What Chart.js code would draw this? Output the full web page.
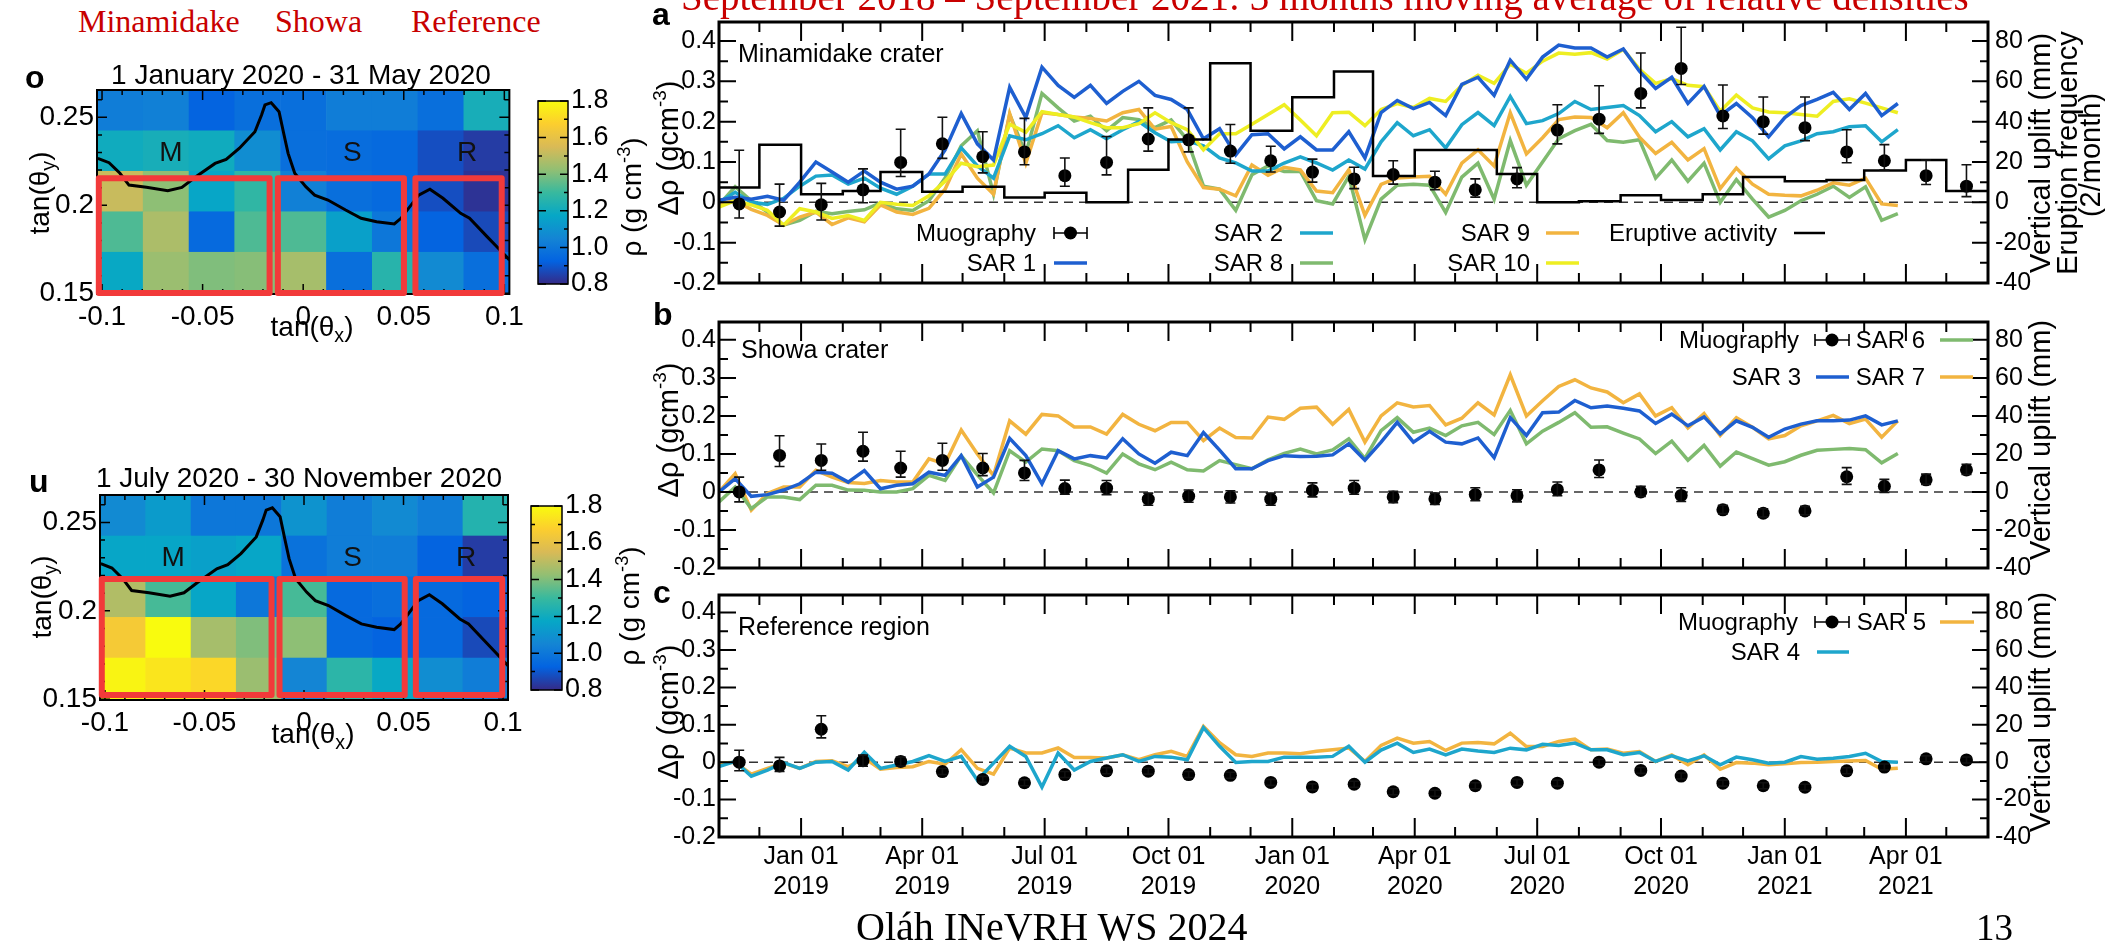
<!DOCTYPE html>
<html lang="en">
<head>
<meta charset="utf-8">
<title>Sakurajima muography – relative density time series</title>
<script src="https://cdn.jsdelivr.net/npm/chart.js@4.4.1/dist/chart.umd.min.js"></script>
<style>
  html, body { margin: 0; padding: 0; background: #fff; overflow: hidden; }
  #page { position: relative; width: 2105px; height: 944px; overflow: hidden; background: #fff;
          font-family: 'Liberation Sans', Arial, Helvetica, sans-serif; color: #000; }
  #page canvas { position: absolute; }
  .txt { position: absolute; white-space: nowrap; line-height: 1; }
  .serif { font-family: 'Liberation Serif', 'Times New Roman', serif; }
  .red { color: #c80000; }
  .rot { transform: translate(-50%, -50%) rotate(-90deg); }
  .mid { transform: translateX(-50%); }
  .letter { font-weight: bold; font-size: 32px; }
  sup { vertical-align: 0.6em; font-size: 65%; line-height: 0; }
  sub { vertical-align: -0.3em; font-size: 70%; line-height: 0; }
</style>
</head>
<body>
<div id="page">
  <canvas id="mapJanMay" width="530" height="300" style="left:0;top:60px"></canvas>
  <canvas id="barJanMay" width="90" height="230" style="left:530px;top:76px"></canvas>
  <canvas id="mapJulNov" width="530" height="300" style="left:0;top:465px"></canvas>
  <canvas id="barJulNov" width="90" height="230" style="left:523px;top:481px"></canvas>
  <canvas id="panelA" width="1485" height="305" style="left:620px;top:0"></canvas>
  <canvas id="panelB" width="1485" height="290" style="left:620px;top:300px"></canvas>
  <canvas id="panelC" width="1485" height="340" style="left:620px;top:570px"></canvas>

  <div class="txt serif red" style="left:681px;top:-22.7px;font-size:39px">September 2018 – September 2021: 3 months moving average of relative densities</div>
  <div class="txt serif red" style="left:78px;top:4.7px;font-size:32px">Minamidake</div>
  <div class="txt serif red" style="left:275px;top:4.7px;font-size:32px">Showa</div>
  <div class="txt serif red" style="left:411px;top:4.7px;font-size:32px">Reference</div>

  <div class="txt letter" style="left:25px;top:60.9px">o</div>
  <div class="txt letter" style="left:29px;top:464.9px">u</div>
  <div class="txt letter" style="left:652px;top:-2.1px">a</div>
  <div class="txt letter" style="left:653px;top:297.9px">b</div>
  <div class="txt letter" style="left:653px;top:575.9px">c</div>

  <div class="txt mid" style="left:301px;top:61.3px;font-size:28px">1 January 2020 - 31 May 2020</div>
  <div class="txt mid" style="left:299px;top:464.3px;font-size:28px">1 July 2020 - 30 November 2020</div>
  <div class="txt mid" style="left:312px;top:313.3px;font-size:28px">tan(θ<sub>x</sub>)</div>
  <div class="txt mid" style="left:313px;top:719.6px;font-size:28px">tan(θ<sub>x</sub>)</div>
  <div class="txt rot" style="left:40px;top:193px;font-size:28px">tan(θ<sub>y</sub>)</div>
  <div class="txt rot" style="left:42px;top:597px;font-size:28px">tan(θ<sub>y</sub>)</div>
  <div class="txt rot" style="left:632px;top:197px;font-size:28px">ρ (g cm<sup>-3</sup>)</div>
  <div class="txt rot" style="left:630px;top:606px;font-size:28px">ρ (g cm<sup>-3</sup>)</div>

  <div class="txt rot" style="left:668px;top:148px;font-size:29px">Δρ (gcm<sup>-3</sup>)</div>
  <div class="txt rot" style="left:668px;top:430px;font-size:29px">Δρ (gcm<sup>-3</sup>)</div>
  <div class="txt rot" style="left:668px;top:712px;font-size:29px">Δρ (gcm<sup>-3</sup>)</div>
  <div class="txt rot" style="left:2040px;top:153px;font-size:29px">Vertical uplift (mm)</div>
  <div class="txt rot" style="left:2067px;top:153px;font-size:29px">Eruption frequency</div>
  <div class="txt rot" style="left:2090px;top:155px;font-size:29px">(2/month)</div>
  <div class="txt rot" style="left:2040px;top:440px;font-size:29px">Vertical uplift (mm)</div>
  <div class="txt rot" style="left:2040px;top:712px;font-size:29px">Vertical uplift (mm)</div>

  <div class="txt" style="left:738px;top:40.8px;font-size:25px">Minamidake crater</div>
  <div class="txt" style="left:741px;top:336.8px;font-size:25px">Showa crater</div>
  <div class="txt" style="left:738px;top:613.8px;font-size:25px">Reference region</div>

  <div class="txt serif" style="left:856px;top:906.5px;font-size:40px">Oláh INeVRH WS 2024</div>
  <div class="txt serif" style="left:1976px;top:909px;font-size:37px">13</div>
</div>

<script>
// ---------- time axis ----------
const axisStart = '2018-11-01';
const axisEnd = '2021-06-01';
const quarterTicks = ['2019-01-01', '2019-04-01', '2019-07-01', '2019-10-01', '2020-01-01',
                      '2020-04-01', '2020-07-01', '2020-10-01', '2021-01-01', '2021-04-01'];
const quarterLabels = [['Jan 01', '2019'], ['Apr 01', '2019'], ['Jul 01', '2019'], ['Oct 01', '2019'], ['Jan 01', '2020'],
                       ['Apr 01', '2020'], ['Jul 01', '2020'], ['Oct 01', '2020'], ['Jan 01', '2021'], ['Apr 01', '2021']];

const rhoRange = [-0.2, 0.447];
const rhoTicks = [-0.2, -0.1, 0, 0.1, 0.2, 0.3, 0.4];
const rhoLabels = ['-0.2', '-0.1', '0', '0.1', '0.2', '0.3', '0.4'];
const rhoMinor = [-0.15, -0.05, 0.05, 0.15, 0.25, 0.35];
const upliftRange = [-40, 89.4];
const upliftTicks = [-40, -20, 0, 20, 40, 60, 80];
const upliftLabels = ['-40', '-20', '0', '20', '40', '60', '80'];
const upliftMinor = [-30, -10, 10, 30, 50, 70];

// ---------- muography (monthly, g/cm3) ----------
const muonDates = ['2018-11-16', '2018-12-16', '2019-01-16', '2019-02-16', '2019-03-16', '2019-04-16', '2019-05-16',
                   '2019-06-16', '2019-07-16', '2019-08-16', '2019-09-16', '2019-10-16', '2019-11-16', '2019-12-16',
                   '2020-01-16', '2020-02-16', '2020-03-16', '2020-04-16', '2020-05-16', '2020-06-16', '2020-07-16',
                   '2020-08-16', '2020-09-16', '2020-10-16', '2020-11-16', '2020-12-16', '2021-01-16', '2021-02-16',
                   '2021-03-16', '2021-04-16', '2021-05-16'];

const muonMinamidake = [-0.004, -0.024, -0.006, 0.031, 0.099, 0.145, 0.113, 0.125, 0.066, 0.099, 0.157, 0.155, 0.127, 0.103,
                        0.075, 0.058, 0.069, 0.050, 0.031, 0.058, 0.179, 0.206, 0.270, 0.332, 0.214, 0.200, 0.185, 0.125,
                        0.103, 0.066, 0.040];
const muonMinamidakeUp = [0.133, 0.069, 0.053, 0.052, 0.082, 0.066, 0.062, 0.083, 0.044, 0.064, 0.077, 0.079, 0.066, 0.036,
                          0.032, 0.029, 0.034, 0.027, 0.027, 0.028, 0.063, 0.083, 0.100, 0.102, 0.077, 0.061, 0.076, 0.055,
                          0.040, 0.039, 0.053];
const muonMinamidakeDown = [0.035, 0.035, 0.038, 0.032, 0.035, 0.036, 0.040, 0.032, 0.026, 0.031, 0.030, 0.030, 0.030, 0.028,
                            0.025, 0.024, 0.024, 0.019, 0.018, 0.022, 0.034, 0.035, 0.036, 0.040, 0.031, 0.031, 0.032, 0.027,
                            0.023, 0.022, 0.026];

const muonShowa = [0.000, 0.096, 0.083, 0.107, 0.063, 0.083, 0.063, 0.050, 0.009, 0.010, -0.019, -0.011, -0.013, -0.019,
                   0.004, 0.010, -0.013, -0.018, -0.007, -0.010, 0.006, 0.058, 0.000, -0.009, -0.047, -0.056, -0.050, 0.040,
                   0.015, 0.032, 0.058];
const muonShowaUp = [0.039, 0.052, 0.043, 0.050, 0.044, 0.045, 0.038, 0.033, 0.022, 0.020, 0.016, 0.016, 0.016, 0.016,
                     0.020, 0.020, 0.015, 0.015, 0.018, 0.016, 0.020, 0.026, 0.015, 0.020, 0.012, 0.012, 0.012, 0.024,
                     0.018, 0.015, 0.015];
const muonShowaDown = [0.026, 0.029, 0.026, 0.026, 0.024, 0.026, 0.020, 0.020, 0.015, 0.017, 0.016, 0.016, 0.016, 0.016,
                       0.017, 0.016, 0.015, 0.015, 0.016, 0.016, 0.016, 0.020, 0.012, 0.016, 0.010, 0.010, 0.010, 0.020,
                       0.016, 0.012, 0.012];

const muonReference = [0.000, -0.010, 0.088, 0.004, 0.002, -0.025, -0.046, -0.055, -0.033, -0.023, -0.024, -0.033, -0.035,
                       -0.054, -0.066, -0.059, -0.079, -0.083, -0.063, -0.054, -0.056, 0.000, -0.022, -0.037, -0.056,
                       -0.063, -0.067, -0.023, -0.013, 0.009, 0.006];
const muonReferenceUp = [0.032, 0.023, 0.036, 0.015, 0.012, 0.008, 0.008, 0.008, 0.008, 0.008, 0.008, 0.008, 0.008, 0.008,
                         0.008, 0.008, 0.008, 0.008, 0.008, 0.008, 0.008, 0.008, 0.008, 0.008, 0.008, 0.008, 0.008, 0.008,
                         0.008, 0.008, 0.008];
const muonReferenceDown = [0.023, 0.015, 0.023, 0.015, 0.012, 0.008, 0.008, 0.008, 0.008, 0.008, 0.008, 0.008, 0.008, 0.008,
                           0.008, 0.008, 0.008, 0.008, 0.008, 0.008, 0.008, 0.008, 0.008, 0.008, 0.008, 0.008, 0.008, 0.008,
                           0.008, 0.008, 0.008];

// ---------- eruptive activity (monthly bins, 2/month) ----------
const eruptionMonths = ['2018-11-01', '2018-12-01', '2019-01-01', '2019-02-01', '2019-03-01', '2019-04-01', '2019-05-01',
                        '2019-06-01', '2019-07-01', '2019-08-01', '2019-09-01', '2019-10-01', '2019-11-01', '2019-12-01',
                        '2020-01-01', '2020-02-01', '2020-03-01', '2020-04-01', '2020-05-01', '2020-06-01', '2020-07-01',
                        '2020-08-01', '2020-09-01', '2020-10-01', '2020-11-01', '2020-12-01', '2021-01-01', '2021-02-01',
                        '2021-03-01', '2021-04-01', '2021-05-01', '2021-06-01'];
const eruptionRate = [7.3, 28.5, 4, 5.6, 15, 5.2, 7.7, 2.4, 4.8, 0, 16.1, 31.1, 68.9, 35.5, 52.1, 64.8, 13, 26, 26, 14,
                      0, 0.5, 3.5, 1.1, 4, 12.6, 10.5, 11.1, 15.8, 21, 5.6];

// ---------- SAR vertical uplift (mm), one value per acquisition ----------
const sarDates = [
  '2018-11-01', '2018-11-13', '2018-11-25', '2018-12-07', '2018-12-19', '2018-12-31',
  '2019-01-12', '2019-01-24', '2019-02-05', '2019-02-17', '2019-03-01', '2019-03-13',
  '2019-03-25', '2019-04-06', '2019-04-18', '2019-04-30', '2019-05-12', '2019-05-24',
  '2019-06-05', '2019-06-17', '2019-06-29', '2019-07-11', '2019-07-23', '2019-08-04',
  '2019-08-16', '2019-08-28', '2019-09-09', '2019-09-21', '2019-10-03', '2019-10-15',
  '2019-10-27', '2019-11-08', '2019-11-20', '2019-12-02', '2019-12-14', '2019-12-26',
  '2020-01-07', '2020-01-19', '2020-01-31', '2020-02-12', '2020-02-24', '2020-03-07',
  '2020-03-19', '2020-03-31', '2020-04-12', '2020-04-24', '2020-05-06', '2020-05-18',
  '2020-05-30', '2020-06-11', '2020-06-23', '2020-07-05', '2020-07-17', '2020-07-29',
  '2020-08-10', '2020-08-22', '2020-09-03', '2020-09-15', '2020-09-27', '2020-10-09',
  '2020-10-21', '2020-11-02', '2020-11-14', '2020-11-26', '2020-12-08', '2020-12-20',
  '2021-01-01', '2021-01-13', '2021-01-25', '2021-02-06', '2021-02-18', '2021-03-02',
  '2021-03-14', '2021-03-26'];

const sar1 = [1, 2.5, 1.5, 3, 1, 10,  20, 15, 10, 15.5, 10, 6.5,  8, 14, 26, 44, 29, 21,  57, 42, 67, 58, 52, 58,
              49, 55, 60, 53, 51, 46,  31.5, 36.5, 23.5, 33.5, 34, 26.5,  32.5, 26, 26, 35, 22, 44.5,
              50.5, 46.5, 49.5, 43, 58.5, 62,  53, 70.5, 61, 72, 78, 76.5,  76.5, 72, 76, 65, 56.5, 62,
              49, 57.5, 43, 49, 42, 32.5,  42, 48, 51, 54.5, 46, 54,  43, 49];
const sar2 = [0, 5, 0, -1, 2, 8,  13, 13.5, 9, 12, 7, 4,  8, 14, 14, 27, 18, 12,  33, 31, 34, 38, 32, 36,
              31.5, 36, 40, 34.5, 30, 30.5,  28, 22, 19.5, 15.5, 15.5, 19.5,  22.5, 19.5, 16, 21, 16.5, 30,
              39.5, 33, 36, 27, 38.5, 44.5,  38, 52.5, 39, 40.5, 44, 50,  46, 47, 48, 43, 35, 40,
              32.5, 36.5, 26, 35, 30.5, 21.5,  28, 30.5, 34, 35, 37.5, 38,  30, 36];
const sar8 = [-1.3, 7.7, 0.8, -4.8, -11.3, -8.9,  -4.5, -5.6, -4.5, -3.7, -0.3, -3.2,  -4, 0.8, 12, 28, 35.5, 4,
              43.5, 24, 54, 46.8, 40.3, 42.7,  35.5, 42, 41, 37, 40.8, 31,  8, 6.5, -4, 13.7, 18, 15.3,
              15.3, 0.8, -0.8, 12.9, -18.5, 1.6,  8.5, 8.9, 8.5, -5, 12.5, 19.4,  1.5, 30.6, 8.5, 20, 31.5, 35.5,
              38.7, 30.6, 29.8, 31, 12, 21,  10.5, 19.4, 0, 11.3, 1.6, -7.3,  -4, 0.8, 4, 8, 2.4, 7.7,  -8.9, -5.6];
const sar9 = [-0.8, 0.8, -3.5, -6.5, -11.3, -7.3,  -4.8, -11, -7.7, -9.7, -1.3, -4.8,  -6, -3, 6.5, 24, 12, 4,
              44, 19.4, 44.4, 43.5, 42.3, 41.6,  40.3, 44.4, 46, 36.3, 37.6, 20,  7.3, 6.5, 3.2, 18.5, 13.4, 17.3,
              16.1, 5.6, 4.8, 16.1, -6.5, 8.9,  12.1, 12.5, 12.9, 4, 19.4, 26,  18, 44.4, 24, 32, 41, 42.3,
              42, 37, 44.4, 32.3, 24.2, 29.8,  21, 26.6, 6.8, 17, 9, 4,  3.5, 3.2, 6, 9.7, 8.5, 12,  -0.8, -1.6];
const sar10 = [-2.4, 0.8, -1.3, -4, -11.3, -3.2,  -4.8, -8, -6.5, -9, 0, -1,  -1.6, 3.2, 10.5, 19.4, 17.7, 18.5,
               38.7, 34.7, 45, 43.5, 42.3, 39.5,  37, 37, 39, 44.4, 39.5, 36,  26, 34, 34, 38.7, 43.5, 48.4,
               40.8, 33, 44.4, 44.7, 38, 46,  49, 47, 51.5, 50, 58, 63,  59, 68.5, 64, 70, 74, 73.4,
               74.2, 71, 75.8, 66, 59, 61.3,  58, 57.3, 45.2, 53.2, 46.8, 44.8,  44.4, 43.5, 42.7, 50, 51.3, 49.2,
               46.8, 44.4];
const sar3 = [0, 7, -2.3, -1.4, 1, 4.3,  10.4, 9.9, 5.2, 11.3, 1.7, 3.5,  4.3, 10.4, 8.7, 19.1, 2.6, 7.8,
              28.2, 19.1, 4.3, 21.7, 17.4, 19.1,  17.9, 28, 20, 15.1, 20.9, 19.1,  31.3, 22, 12.2, 12.2, 16.5, 19.1,
              18.6, 18.8, 19.5, 25.3, 16.7, 26.2,  36.6, 26.2, 31.9, 26.2, 25.3, 28.4,  18.1, 39.1, 29.7, 41.7, 42, 48.1,
              44.3, 45.2, 44, 42.6, 36, 40.9,  34.8, 39.5, 30.5, 37.4, 34, 28.8,  33.1, 35.7, 37.4, 37.4, 37.8, 40,
              35.3, 37.4];
const sar6 = [-5.2, 2.6, -8.7, -2.6, -2.6, -4,  3.5, 3.5, 1, 0.9, 0, 0,  1.7, 8.7, 6.1, 19.1, 9, -0.5,
              21.7, 15.7, 22.6, 21.7, 16.5, 13.9,  9.9, 20, 14.8, 11.7, 15.7, 11.7,  11, 16.5, 14.4, 12.2, 16.9, 20.3,
              22.6, 20, 22.1, 27.9, 17.6, 32.2,  39.1, 31.4, 33.6, 29.7, 34.8, 36.6,  30.2, 42.9, 25.3, 32, 36.6, 41.7,
              34, 34.3, 31, 27.9, 20.2, 26.7,  16.7, 24.5, 13.6, 21, 17.5, 14.1,  15.9, 19.3, 21.9, 22.4, 22.8, 22.2,
              15.3, 20.2];
const sar7 = [0, 9.6, -9.6, -0.8, 2.6, 2.6,  11.4, 7.8, 5, 4.4, 6, 5.2,  5.2, 17.4, 14.8, 32.6, 20, 8.6,
              37.4, 30.4, 40.8, 40, 34.2, 34.2,  30.4, 40.8, 35.6, 32.2, 36.6, 36.6,  27, 33.6, 28.6, 28.4, 39.4, 38.2,
              44, 44.6, 35.6, 43.4, 26.2, 40,  46.9, 44.7, 45.5, 35.3, 38.8, 46.9,  40.5, 61.6, 40, 48, 55.5, 59,
              54.7, 52.6, 46.9, 51.6, 40, 44.3,  33.6, 41.2, 29.7, 39.1, 34, 27.9,  29.7, 34.8, 37.4, 40.3, 36, 38.3,
              28.8, 37.4];
const sar4 = [-2.4, 0.4, -7.5, -4.2, -0.2, -3.3,  0, 0.4, -4.2, 5.3, -3.3, -1.5,  0.4, 3.5, 0.4, 3.1, -9.6, -0.5,
              8.5, 3.1, -13.3, 4.9, -4.2, 0.4,  2.2, 4, 0.4, 3.1, 2.7, 1.3,  18.5, 8.5, -0.2, 0.4, 0.4, 2.7,
              2.7, 2.7, 3.1, 8.5, 0, 6.5,  10.2, 5.2, 7, 3.9, 7, 6,  5.2, 7.5, 6.6, 9.6, 8.9, 10.2,
              6.6, 6.6, 4, 5.2, 0.4, 3.4,  0.7, 3.4, -1.4, 2.7, 1.3, -0.5,  0, 3, 1.6, 2.1, 3, 4.8,  0.4, 0];
const sar5 = [-0.5, 0, -6.4, -3.3, -0.5, -3.3,  0.4, 0.7, -2.4, 2.2, -3.8, -2.9,  -2.4, 0.4, -1.1, 6.7, -3.3, -6.4,
              7.6, 4.9, 4.9, 7.6, 2.5, 2.5,  2.2, 4, 1.3, 4, 5.8, 3.1,  19.1, 10.4, 4, 3.1, 4.9, 4.9,
              4.5, 5.8, 6.7, 7.6, 0.4, 9,  12.9, 10.2, 11.1, 6.3, 10.2, 10.5,  9.8, 15.5, 8.4, 8.4, 11.1, 12.3,
              6.6, 7, 4.8, 5.7, 0.4, 3.9,  -1.4, 3.9, -3.8, -0.2, -0.5, -1.4,  -0.9, -0.2, 0, 0.4, 0.7, 0.9,
              -3.8, -3.2];

// ---------- density maps (rows top to bottom, columns left to right, g/cm3) ----------
const tanXRange = [-0.1025, 0.1025];
const tanYRange = [0.1496, 0.2655];
const tanXEdges = [-0.1025, -0.0797, -0.0569, -0.0342, -0.0114, 0.0114, 0.0342, 0.0569, 0.0797, 0.1025];
const tanYEdges = [0.2655, 0.2425, 0.2195, 0.1965, 0.1735, 0.1496];
const tanXTicks = [-0.1, -0.05, 0, 0.05, 0.1];
const tanXLabels = ['-0.1', '-0.05', '0', '0.05', '0.1'];
const tanYTicks = [0.15, 0.2, 0.25];
const tanYLabels = ['0.15', '0.2', '0.25'];

const densityJanMay = [
  [1.02, 1.03, 0.93, 0.97, 0.97, 1.02, 1.02, 0.97, 1.22],
  [1.20, 1.22, 1.20, 1.08, 0.97, 0.96, 0.95, 0.88, 0.84],
  [1.52, 1.42, 1.17, 1.28, 1.03, 0.97, 0.95, 0.88, 0.82],
  [1.33, 1.47, 0.95, 1.33, 1.33, 1.15, 1.00, 0.93, 0.87],
  [1.18, 1.44, 1.40, 1.41, 1.46, 0.97, 1.26, 1.07, 0.97]
];
const densityJulNov = [
  [1.07, 1.13, 1.00, 1.00, 1.10, 1.02, 1.07, 1.02, 1.25],
  [1.17, 1.17, 1.15, 1.17, 0.98, 1.02, 1.02, 0.93, 0.84],
  [1.48, 1.32, 1.17, 1.00, 1.32, 0.95, 0.97, 0.95, 0.93],
  [1.65, 1.80, 1.46, 1.40, 1.42, 0.95, 0.93, 0.95, 0.87],
  [1.78, 1.74, 1.70, 1.44, 1.05, 1.27, 1.18, 1.08, 1.02]
];
const densityRange = [0.8, 1.8];
const densityTicks = [0.8, 1.0, 1.2, 1.4, 1.6, 1.8];
const densityLabels = ['0.8', '1.0', '1.2', '1.4', '1.6', '1.8'];

// crater rim profile seen from the detector
const profileX = [-0.1021, -0.0965, -0.0911, -0.0866, -0.0779, -0.0673, -0.0603, -0.0537, -0.0438, -0.0383, -0.0317,
                  -0.0240, -0.0207, -0.0190, -0.0159, -0.0120, -0.0097, -0.0075, -0.0042, 0.0013, 0.0057, 0.0123,
                  0.0211, 0.0288, 0.0365, 0.0453, 0.0486, 0.0574, 0.0630, 0.0695, 0.0783, 0.0827, 0.0914, 0.0970, 0.1025];
const profileY = [0.2267, 0.2242, 0.2182, 0.2115, 0.2102, 0.2083, 0.2102, 0.2159, 0.2238, 0.2261, 0.2324,
                  0.2418, 0.2513, 0.2570, 0.2583, 0.2532, 0.2409, 0.2295, 0.2182, 0.2106, 0.2058, 0.2030,
                  0.1973, 0.1926, 0.1907, 0.1894, 0.1926, 0.2058, 0.2091, 0.2040, 0.1954, 0.1926, 0.1822, 0.1756, 0.1690];

// analysis regions [xMin, xMax, yMin, yMax] and their letters
const regionsJanMay = [[-0.1016, -0.0167, 0.1501, 0.2153], [-0.0126, 0.0501, 0.1501, 0.2153], [0.0558, 0.0987, 0.1501, 0.2153]];
const regionsJulNov = [[-0.1016, -0.0163, 0.1524, 0.2180], [-0.0123, 0.0506, 0.1524, 0.2180], [0.0562, 0.0996, 0.1524, 0.2180]];
const regionNames = ['M', 'S', 'R'];
const regionNameX = [-0.0657, 0.0244, 0.0815];
const regionNameY = 0.2297;

// ---------- helpers ----------
Chart.defaults.font.family = "'Liberation Sans', Arial, Helvetica, sans-serif";
Chart.defaults.color = '#000';

const origin = Date.UTC(2018, 10, 1);
function dayOf(iso) {
  const [y, m, d] = iso.split('-').map(Number);
  return (Date.UTC(y, m - 1, d) - origin) / 86400000;
}

const parulaStops = ['#352a87', '#0363e1', '#1485d4', '#06a7c6', '#38b99e', '#92bf73', '#d9ba56', '#fcce2e', '#f9fb0e'];
function hexRgb(h) { return [1, 3, 5].map(k => parseInt(h.substr(k, 2), 16)); }
function parula(t) {
  t = Math.max(0, Math.min(1, t));
  const n = parulaStops.length - 1;
  const i = Math.min(Math.floor(t * n), n - 1);
  const u = t * n - i;
  const a = hexRgb(parulaStops[i]), b = hexRgb(parulaStops[i + 1]);
  return 'rgb(' + a.map((c, k) => Math.round(c + (b[k] - c) * u)).join(',') + ')';
}

// ROOT-like frame: thick box with inward tick marks on the requested sides
function framePlugin(spec) {
  return {
    id: 'rootFrame',
    beforeDatasetsDraw(chart) {
      if (!spec.zeroLine) return;
      const { ctx, chartArea: a, scales } = chart;
      const y = scales.y.getPixelForValue(0);
      ctx.save();
      ctx.strokeStyle = '#333';
      ctx.lineWidth = 1.6;
      ctx.setLineDash([9, 6]);
      ctx.beginPath();
      ctx.moveTo(a.left, y);
      ctx.lineTo(a.right, y);
      ctx.stroke();
      ctx.restore();
    },
    afterDatasetsDraw(chart) {
      const { ctx, chartArea: a, scales } = chart;
      ctx.save();
      ctx.strokeStyle = '#000';
      ctx.lineWidth = spec.tickWidth;
      ctx.beginPath();
      spec.marks.forEach(m => {
        const sc = scales[m.axis];
        const put = (v, len) => {
          if (v < sc.min - 1e-9 || v > sc.max + 1e-9) return;
          const p = sc.getPixelForValue(v);
          m.sides.forEach(side => {
            if (side === 'left') { ctx.moveTo(a.left, p); ctx.lineTo(a.left + len, p); }
            if (side === 'right') { ctx.moveTo(a.right, p); ctx.lineTo(a.right - len, p); }
            if (side === 'top') { ctx.moveTo(p, a.top); ctx.lineTo(p, a.top + len); }
            if (side === 'bottom') { ctx.moveTo(p, a.bottom); ctx.lineTo(p, a.bottom - len); }
          });
        };
        m.minor.forEach(v => put(v, m.minorLen));
        m.major.forEach(v => put(v, m.len));
      });
      ctx.stroke();
      ctx.lineWidth = spec.frameWidth;
      ctx.strokeRect(a.left, a.top, a.right - a.left, a.bottom - a.top);
      ctx.restore();
    }
  };
}

// vertical error bars with caps for datasets carrying errUp / errDown
const errorBars = {
  id: 'errorBars',
  afterDatasetsDraw(chart) {
    const ctx = chart.ctx;
    chart.data.datasets.forEach((ds, i) => {
      if (!ds.errUp) return;
      const meta = chart.getDatasetMeta(i);
      const ys = chart.scales[ds.yAxisID];
      ctx.save();
      ctx.strokeStyle = '#111';
      ctx.lineWidth = 1.6;
      ctx.beginPath();
      meta.data.forEach((pt, j) => {
        const v = ds.data[j].y;
        const top = ys.getPixelForValue(v + ds.errUp[j]);
        const bot = ys.getPixelForValue(v - ds.errDown[j]);
        ctx.moveTo(pt.x, top); ctx.lineTo(pt.x, bot);
        ctx.moveTo(pt.x - 5, top); ctx.lineTo(pt.x + 5, top);
        ctx.moveTo(pt.x - 5, bot); ctx.lineTo(pt.x + 5, bot);
      });
      ctx.stroke();
      ctx.restore();
    });
  }
};

// two-row legend, label text to the left of its symbol
function legendPlugin(spec) {
  return {
    id: 'rootLegend',
    afterDraw(chart) {
      const ctx = chart.ctx;
      ctx.save();
      ctx.font = "24px 'Liberation Sans', Arial, sans-serif";
      ctx.textAlign = 'right';
      ctx.textBaseline = 'middle';
      spec.entries.forEach(e => {
        const ds = chart.data.datasets.find(d => d.label === e.label);
        const y = spec.rows[e.row];
        ctx.fillStyle = '#000';
        ctx.fillText(e.label, e.textRight, y + 1);
        if (ds.errUp) {
          ctx.strokeStyle = '#000';
          ctx.lineWidth = 1.6;
          ctx.beginPath();
          ctx.moveTo(e.x0, y); ctx.lineTo(e.x1, y);
          ctx.moveTo(e.x0, y - 6); ctx.lineTo(e.x0, y + 6);
          ctx.moveTo(e.x1, y - 6); ctx.lineTo(e.x1, y + 6);
          ctx.stroke();
          ctx.beginPath();
          ctx.arc((e.x0 + e.x1) / 2, y, 6.5, 0, Math.PI * 2);
          ctx.fill();
        } else {
          ctx.strokeStyle = ds.borderColor;
          ctx.lineWidth = ds.borderWidth;
          ctx.beginPath();
          ctx.moveTo(e.x0, y); ctx.lineTo(e.x1, y);
          ctx.stroke();
        }
      });
      ctx.restore();
    }
  };
}

const tickFont = { size: 25 };
const monthDays = eruptionMonths.map(dayOf);
const quarterDays = quarterTicks.map(dayOf);

function timePanel(canvasId, p) {
  const datasets = [{
    label: 'Muography', yAxisID: 'y', showLine: false,
    data: muonDates.map((d, i) => ({ x: dayOf(d), y: p.muon[i] })),
    errUp: p.up, errDown: p.down,
    pointRadius: 6.5, pointHoverRadius: 6.5, pointBackgroundColor: '#000', pointBorderColor: '#000', pointBorderWidth: 0
  }];
  if (p.eruption) {
    datasets.push({
      label: 'Eruptive activity', yAxisID: 'y2', stepped: true,
      data: eruptionMonths.map((d, i) => ({ x: dayOf(d), y: eruptionRate[Math.min(i, eruptionRate.length - 1)] })),
      borderColor: '#000', borderWidth: 2.5, pointRadius: 0, fill: false
    });
  }
  p.sar.forEach(s => datasets.push({
    label: s.label, yAxisID: 'y2',
    data: sarDates.map((d, i) => ({ x: dayOf(d), y: s.values[i] })),
    borderColor: s.color, borderWidth: 3.5, pointRadius: 0, fill: false, tension: 0
  }));

  return new Chart(document.getElementById(canvasId), {
    type: 'line',
    data: { datasets },
    options: {
      responsive: false, animation: false, events: [],
      layout: { padding: p.padding },
      plugins: { legend: { display: false }, tooltip: { enabled: false } },
      scales: {
        x: {
          type: 'linear', min: dayOf(axisStart), max: dayOf(axisEnd), display: p.showDates,
          afterBuildTicks: s => { s.ticks = quarterDays.map(v => ({ value: v })); },
          ticks: { autoSkip: false, maxRotation: 0, minRotation: 0, padding: 5, font: tickFont,
                   callback: (v, i) => quarterLabels[i] },
          grid: { display: false, drawTicks: false }, border: { display: false },
          afterFit: s => { s.height = p.xHeight; }
        },
        y: {
          type: 'linear', position: 'left', min: rhoRange[0], max: rhoRange[1],
          afterBuildTicks: s => { s.ticks = rhoTicks.map(v => ({ value: v })); },
          ticks: { autoSkip: false, padding: 3, font: tickFont, callback: (v, i) => rhoLabels[i] },
          grid: { display: false, drawTicks: false }, border: { display: false },
          afterFit: s => { s.width = 80; }
        },
        y2: {
          type: 'linear', position: 'right', min: upliftRange[0], max: upliftRange[1],
          afterBuildTicks: s => { s.ticks = upliftTicks.map(v => ({ value: v })); },
          ticks: { autoSkip: false, padding: 7, font: tickFont, callback: (v, i) => upliftLabels[i] },
          grid: { display: false, drawTicks: false }, border: { display: false },
          afterFit: s => { s.width = 60; }
        }
      }
    },
    plugins: [
      framePlugin({
        zeroLine: true, frameWidth: 3, tickWidth: 2,
        marks: [
          { axis: 'x', sides: ['top', 'bottom'], major: quarterDays, minor: monthDays, len: 19, minorLen: 10 },
          { axis: 'y', sides: ['left'], major: rhoTicks, minor: rhoMinor, len: 17, minorLen: 9 },
          { axis: 'y2', sides: ['right'], major: upliftTicks, minor: upliftMinor, len: 16, minorLen: 8 }
        ]
      }),
      errorBars,
      legendPlugin(p.legend)
    ]
  });
}

// ---------- density maps ----------
function cellsPlugin(grid) {
  return {
    id: 'densityCells',
    beforeDatasetsDraw(chart) {
      const { ctx, chartArea: a, scales: { x, y } } = chart;
      ctx.save();
      ctx.beginPath();
      ctx.rect(a.left, a.top, a.width, a.height);
      ctx.clip();
      grid.forEach((row, r) => row.forEach((v, c) => {
        const x0 = x.getPixelForValue(tanXEdges[c]), x1 = x.getPixelForValue(tanXEdges[c + 1]);
        const y0 = y.getPixelForValue(tanYEdges[r]), y1 = y.getPixelForValue(tanYEdges[r + 1]);
        ctx.fillStyle = parula((v - densityRange[0]) / (densityRange[1] - densityRange[0]));
        ctx.fillRect(x0, y0, x1 - x0 + 0.6, y1 - y0 + 0.6);
      }));
      ctx.restore();
    }
  };
}

function regionsPlugin(boxes) {
  return {
    id: 'regions',
    afterDatasetsDraw(chart) {
      const { ctx, scales: { x, y } } = chart;
      ctx.save();
      ctx.strokeStyle = '#f23a3a';
      ctx.lineWidth = 6;
      ctx.lineJoin = 'round';
      boxes.forEach(b => {
        const l = x.getPixelForValue(b[0]), r = x.getPixelForValue(b[1]);
        const t = y.getPixelForValue(b[3]), btm = y.getPixelForValue(b[2]);
        ctx.strokeRect(l, t, r - l, btm - t);
      });
      ctx.fillStyle = '#111';
      ctx.font = "28px 'Liberation Sans', Arial, sans-serif";
      ctx.textAlign = 'center';
      ctx.textBaseline = 'middle';
      regionNames.forEach((n, i) => ctx.fillText(n, x.getPixelForValue(regionNameX[i]), y.getPixelForValue(regionNameY)));
      ctx.restore();
    }
  };
}

const mapFont = { size: 28 };
const tanXMinor = [-0.09, -0.08, -0.07, -0.06, -0.04, -0.03, -0.02, -0.01, 0.01, 0.02, 0.03, 0.04, 0.06, 0.07, 0.08, 0.09];
const tanYMinor = [0.16, 0.17, 0.18, 0.19, 0.21, 0.22, 0.23, 0.24, 0.26];

function densityMap(canvasId, grid, boxes, box) {
  return new Chart(document.getElementById(canvasId), {
    type: 'line',
    data: {
      datasets: [{
        label: 'Crater rim', data: profileX.map((x, i) => ({ x, y: profileY[i] })),
        borderColor: '#000', borderWidth: 3, pointRadius: 0, tension: 0, fill: false
      }]
    },
    options: {
      responsive: false, animation: false, events: [],
      layout: { padding: box.padding },
      plugins: { legend: { display: false }, tooltip: { enabled: false } },
      scales: {
        x: {
          type: 'linear', min: tanXRange[0], max: tanXRange[1],
          afterBuildTicks: s => { s.ticks = tanXTicks.map(v => ({ value: v })); },
          ticks: { autoSkip: false, maxRotation: 0, minRotation: 0, padding: 6, font: mapFont,
                   callback: (v, i) => tanXLabels[i] },
          grid: { display: false, drawTicks: false }, border: { display: false },
          afterFit: s => { s.height = box.xHeight; }
        },
        y: {
          type: 'linear', min: tanYRange[0], max: tanYRange[1],
          afterBuildTicks: s => { s.ticks = tanYTicks.map(v => ({ value: v })); },
          ticks: { autoSkip: false, padding: 3, font: mapFont, callback: (v, i) => tanYLabels[i] },
          grid: { display: false, drawTicks: false }, border: { display: false },
          afterFit: s => { s.width = box.yWidth; }
        }
      }
    },
    plugins: [
      cellsPlugin(grid),
      framePlugin({
        zeroLine: false, frameWidth: 2, tickWidth: 1.5,
        marks: [
          { axis: 'x', sides: ['top', 'bottom'], major: tanXTicks, minor: tanXMinor, len: 10, minorLen: 5 },
          { axis: 'y', sides: ['left', 'right'], major: tanYTicks, minor: tanYMinor, len: 10, minorLen: 5 }
        ]
      }),
      regionsPlugin(boxes)
    ]
  });
}

const paletteFill = {
  id: 'paletteFill',
  beforeDatasetsDraw(chart) {
    const { ctx, chartArea: a, scales: { y } } = chart;
    const g = ctx.createLinearGradient(0, y.getPixelForValue(densityRange[0]), 0, y.getPixelForValue(densityRange[1]));
    parulaStops.forEach((c, k) => g.addColorStop(k / (parulaStops.length - 1), c));
    ctx.save();
    ctx.fillStyle = g;
    ctx.fillRect(a.left, a.top, a.width, a.height);
    ctx.restore();
  }
};

function colorBar(canvasId, box) {
  return new Chart(document.getElementById(canvasId), {
    type: 'scatter',
    data: { datasets: [] },
    options: {
      responsive: false, animation: false, events: [],
      layout: { padding: box.padding },
      plugins: { legend: { display: false }, tooltip: { enabled: false } },
      scales: {
        x: { type: 'linear', display: false, min: 0, max: 1 },
        y: {
          type: 'linear', position: 'right', min: densityRange[0], max: densityRange[1],
          afterBuildTicks: s => { s.ticks = densityTicks.map(v => ({ value: v })); },
          ticks: { autoSkip: false, padding: 3, font: { size: 27 }, callback: (v, i) => densityLabels[i] },
          grid: { display: false, drawTicks: false }, border: { display: false },
          afterFit: s => { s.width = box.yWidth; }
        }
      }
    },
    plugins: [
      paletteFill,
      framePlugin({
        zeroLine: false, frameWidth: 1.5, tickWidth: 1.5,
        marks: [{ axis: 'y', sides: ['left', 'right'], major: densityTicks, minor: [0.9, 1.1, 1.3, 1.5, 1.7], len: 8, minorLen: 4 }]
      })
    ]
  });
}

// ---------- build ----------
const blue = '#1e5fd0', cyan = '#1ea6cc', green = '#7fba6f', orange = '#f2b440', yellow = '#eeee22';

densityMap('mapJanMay', densityJanMay, regionsJanMay, { padding: { left: 0, right: 16, top: 30, bottom: 0 }, yWidth: 97, xHeight: 66 });
densityMap('mapJulNov', densityJulNov, regionsJulNov, { padding: { left: 0, right: 22, top: 30, bottom: 0 }, yWidth: 100, xHeight: 65 });
colorBar('barJanMay', { padding: { left: 8, right: 0, top: 25, bottom: 22 }, yWidth: 52 });
colorBar('barJulNov', { padding: { left: 8, right: 0, top: 25, bottom: 21 }, yWidth: 51 });

timePanel('panelA', {
  muon: muonMinamidake, up: muonMinamidakeUp, down: muonMinamidakeDown, eruption: true,
  sar: [
    { label: 'SAR 1', values: sar1, color: blue },
    { label: 'SAR 10', values: sar10, color: yellow },
    { label: 'SAR 2', values: sar2, color: cyan },
    { label: 'SAR 9', values: sar9, color: orange },
    { label: 'SAR 8', values: sar8, color: green }
  ],
  padding: { left: 19, right: 57, top: 21, bottom: 16 }, showDates: false, xHeight: 0,
  legend: {
    rows: [233, 263],
    entries: [
      { label: 'Muography', row: 0, textRight: 416, x0: 434, x1: 467 },
      { label: 'SAR 1', row: 1, textRight: 416, x0: 434, x1: 467 },
      { label: 'SAR 2', row: 0, textRight: 663, x0: 680, x1: 713 },
      { label: 'SAR 8', row: 1, textRight: 663, x0: 680, x1: 713 },
      { label: 'SAR 9', row: 0, textRight: 910, x0: 926, x1: 959 },
      { label: 'SAR 10', row: 1, textRight: 910, x0: 926, x1: 959 },
      { label: 'Eruptive activity', row: 0, textRight: 1157, x0: 1174, x1: 1205 }
    ]
  }
});

timePanel('panelB', {
  muon: muonShowa, up: muonShowaUp, down: muonShowaDown, eruption: false,
  sar: [
    { label: 'SAR 3', values: sar3, color: blue },
    { label: 'SAR 6', values: sar6, color: green },
    { label: 'SAR 7', values: sar7, color: orange }
  ],
  padding: { left: 19, right: 57, top: 16, bottom: 22 }, showDates: false, xHeight: 0,
  legend: {
    rows: [40, 77],
    entries: [
      { label: 'Muography', row: 0, textRight: 1179, x0: 1195, x1: 1229 },
      { label: 'SAR 6', row: 0, textRight: 1305, x0: 1320, x1: 1353 },
      { label: 'SAR 3', row: 1, textRight: 1181, x0: 1196, x1: 1229 },
      { label: 'SAR 7', row: 1, textRight: 1305, x0: 1320, x1: 1353 }
    ]
  }
});

timePanel('panelC', {
  muon: muonReference, up: muonReferenceUp, down: muonReferenceDown, eruption: false,
  sar: [
    { label: 'SAR 4', values: sar4, color: cyan },
    { label: 'SAR 5', values: sar5, color: orange }
  ],
  padding: { left: 19, right: 57, top: 25, bottom: 0 }, showDates: true, xHeight: 73,
  legend: {
    rows: [52, 82],
    entries: [
      { label: 'Muography', row: 0, textRight: 1178, x0: 1195, x1: 1229 },
      { label: 'SAR 5', row: 0, textRight: 1306, x0: 1320, x1: 1354 },
      { label: 'SAR 4', row: 1, textRight: 1180, x0: 1197, x1: 1229 }
    ]
  }
});
</script>
</body>
</html>
